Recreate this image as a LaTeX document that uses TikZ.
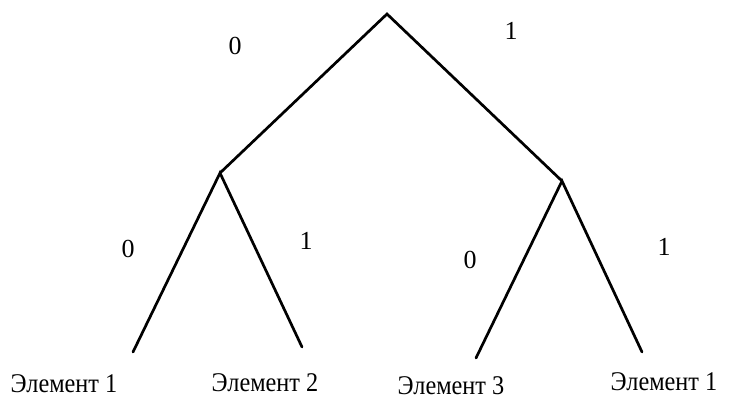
\documentclass[tikz,border=0pt]{standalone}
\usepackage{fontspec}
\setmainfont{Liberation Serif}
\newfontfamily\condfont[FakeStretch=0.9]{Liberation Serif}
\begin{document}
\begin{tikzpicture}[x=1pt,y=-1pt,
  edge/.style={line width=2.7pt,line cap=round,line join=miter},
  lbl/.style={font=\fontsize{26}{29}\selectfont,inner sep=0pt},
  leaf/.style={font=\condfont\fontsize{27}{30}\selectfont,inner sep=0pt,anchor=base}]
\useasboundingbox (0,0) rectangle (731,399);
\coordinate (r) at (387,14);
\coordinate (a) at (220,173);
\coordinate (b) at (562,181);
\coordinate (l1) at (133,352);
\coordinate (l2) at (302,347);
\coordinate (l3) at (476,358);
\coordinate (l4) at (642,352);
\draw[edge] (a) -- (r) -- (b);
\draw[edge] (l1) -- (a) -- (l2);
\draw[edge] (l3) -- (b) -- (l4);
\node[lbl] (t0) at (235,46) {0};
\node[lbl] (t1) at (511,31) {1};
\node[lbl] (t2) at (128,249) {0};
\node[lbl] (t3) at (306,241) {1};
\node[lbl] (t4) at (470,260) {0};
\node[lbl] (t5) at (664,247) {1};
\node[leaf] (e1) at (64,392) {Элемент 1};
\node[leaf] (e2) at (265,391) {Элемент 2};
\node[leaf] (e3) at (451,394) {Элемент 3};
\node[leaf] (e4) at (664,390) {Элемент 1};
\end{tikzpicture}
\end{document}
